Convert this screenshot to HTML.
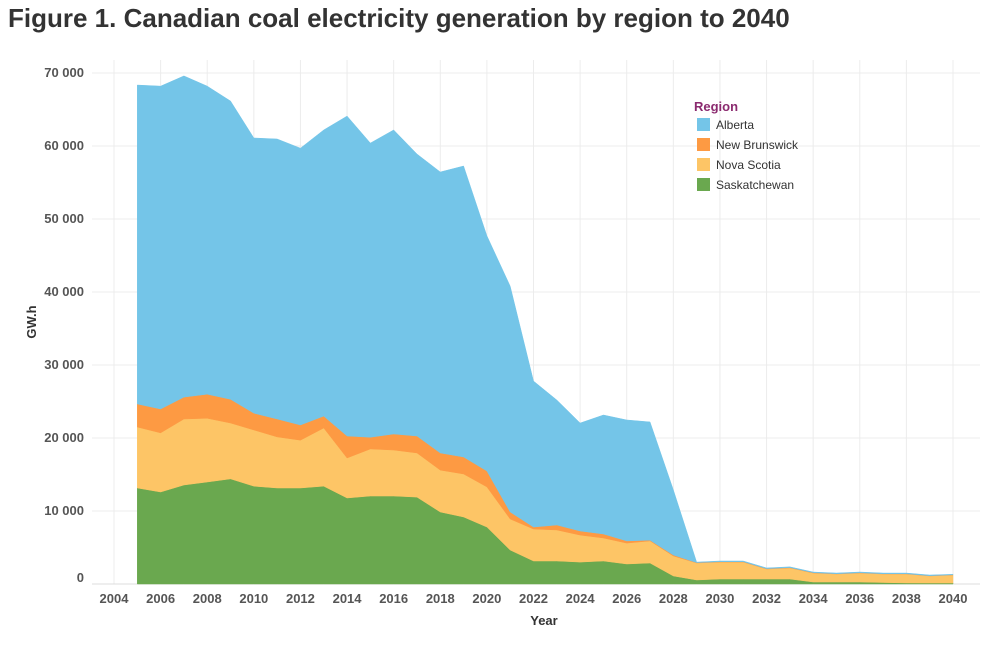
<!DOCTYPE html>
<html><head><meta charset="utf-8"><style>
body{margin:0;background:#fff;font-family:"Liberation Sans",Arial,sans-serif}
svg text{font-family:"Liberation Sans",Arial,sans-serif}
</style></head><body>
<svg id="chart" width="981" height="641" xmlns="http://www.w3.org/2000/svg">
<text x="8" y="27" font-size="26" font-weight="bold" fill="#333">Figure 1. Canadian coal electricity generation by region to 2040</text>
<g id="grid"></g><g id="areas"></g><g id="axes"></g>
<text transform="translate(36,322) rotate(-90)" text-anchor="middle" font-size="13" font-weight="bold" fill="#333">GW.h</text>
<text x="544" y="625" text-anchor="middle" font-size="13" font-weight="bold" fill="#333">Year</text>
<g>
<text x="694" y="111" font-size="13" font-weight="bold" fill="#8b2a6f">Region</text>
<g><rect x="697" y="118" width="13" height="13" fill="#74c5e8"/><text x="716" y="129" font-size="12" fill="#333">Alberta</text></g>
<g><rect x="697" y="138" width="13" height="13" fill="#fd9a43"/><text x="716" y="149" font-size="12" fill="#333">New Brunswick</text></g>
<g><rect x="697" y="158" width="13" height="13" fill="#fdc566"/><text x="716" y="169" font-size="12" fill="#333">Nova Scotia</text></g>
<g><rect x="697" y="178" width="13" height="13" fill="#6aa84f"/><text x="716" y="189" font-size="12" fill="#333">Saskatchewan</text></g>
</g>
</svg>
<script>
const years=[2005,2006,2007,2008,2009,2010,2011,2012,2013,2014,2015,2016,2017,2018,2019,2020,2021,2022,2023,2024,2025,2026,2027,2028,2029,2030,2031,2032,2033,2034,2035,2036,2037,2038,2039,2040];
const saskatchewan=[13150,12600,13560,13970,14400,13400,13150,13150,13400,11780,12050,12050,11900,9860,9180,7800,4650,3150,3150,3000,3150,2740,2870,1100,550,680,680,680,680,270,270,270,200,140,130,130];
const novaScotia=[8350,8100,9040,8730,7650,7700,7000,6550,7970,5480,6450,6300,6050,5740,5890,5500,4250,4380,4250,3700,3150,2860,3030,2740,2330,2320,2320,1370,1520,1230,1100,1230,1170,1230,970,1100];
const newBrunswick=[3160,3270,3000,3300,3250,2300,2450,2080,1630,3010,1600,2200,2320,2350,2330,2180,960,270,680,560,550,300,100,130,50,50,50,50,50,50,30,40,30,30,30,30];
const alberta=[43690,44230,44000,42200,40860,37700,38360,37920,39200,43830,40300,41650,38630,38490,39860,32220,30940,20000,17120,14790,16300,16570,16200,8930,70,100,100,100,100,90,100,100,100,100,100,70];
const yTicks=[0,10000,20000,30000,40000,50000,60000,70000];
const yTickLabels=["0","10 000","20 000","30 000","40 000","50 000","60 000","70 000"];
const xTicks=[2004,2006,2008,2010,2012,2014,2016,2018,2020,2022,2024,2026,2028,2030,2032,2034,2036,2038,2040];
const NS="http://www.w3.org/2000/svg";
const x=y=>114+(y-2004)*(953-114)/36;
const yS=v=>584-v*73/10000;
const grid=document.getElementById('grid'),areas=document.getElementById('areas'),axes=document.getElementById('axes');
function mk(tag,attrs,parent){const e=document.createElementNS(NS,tag);for(const k in attrs)e.setAttribute(k,attrs[k]);parent.appendChild(e);return e;}
yTicks.forEach((t,i)=>{
 const l=mk('line',{x1:92,x2:980,y1:yS(t),y2:yS(t),stroke:'#ececec'},grid);
 
 
 const tx=mk('text',{x:84,y:yS(t)+(t===0?-2:4),'text-anchor':'end','font-size':13,'font-weight':'bold',fill:'#555'},axes);
 tx.textContent=yTickLabels[i];
 
 
});
xTicks.forEach(t=>{
 const l=mk('line',{x1:x(t),x2:x(t),y1:60,y2:584,stroke:'#ececec'},grid);
 
 
 const tx=mk('text',{x:x(t),y:603,'text-anchor':'middle','font-size':13,'font-weight':'bold',fill:'#555'},axes);
 tx.textContent=t;
 
 
});
mk('line',{x1:92,x2:980,y1:584,y2:584,stroke:'#ddd'},grid);
const series=[[saskatchewan,'#6aa84f','area-saskatchewan'],[novaScotia,'#fdc566','area-nova-scotia'],[newBrunswick,'#fd9a43','area-new-brunswick'],[alberta,'#74c5e8','area-alberta']];
let base=years.map(()=>0);
series.forEach(([vals,col,name])=>{
 const top=base.map((b,i)=>b+vals[i]);
 let d='M'+years.map((yr,i)=>x(yr)+','+yS(top[i])).join('L');
 for(let i=years.length-1;i>=0;i--)d+='L'+x(years[i])+','+yS(base[i]);
 const p=mk('path',{d:d+'Z',fill:col,stroke:col,'stroke-width':0.5},areas);
 
 
 base=top;
});
</script>
</body></html>
